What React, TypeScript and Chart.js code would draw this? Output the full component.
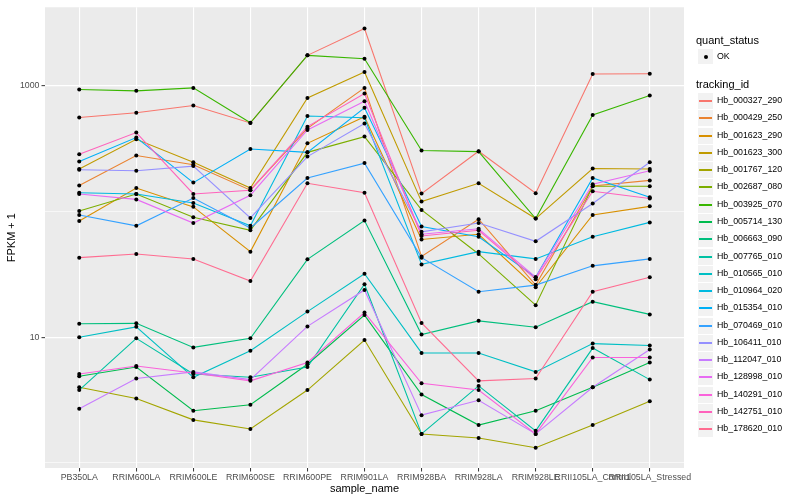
import React, { useEffect, useRef } from "react";
import { Chart, registerables } from "chart.js";

Chart.register(...registerables);

const categories = [
  "PB350LA", "RRIM600LA", "RRIM600LE", "RRIM600SE", "RRIM600PE", "RRIM901LA",
  "RRIM928BA", "RRIM928LA", "RRIM928LE", "RRII105LA_Control", "RRII105LA_Stressed",
];

const trackingIds = [
  "Hb_000327_290", "Hb_000429_250", "Hb_001623_290", "Hb_001623_300", "Hb_001767_120",
  "Hb_002687_080", "Hb_003925_070", "Hb_005714_130", "Hb_006663_090", "Hb_007765_010",
  "Hb_010565_010", "Hb_010964_020", "Hb_015354_010", "Hb_070469_010", "Hb_106411_010",
  "Hb_112047_010", "Hb_128998_010", "Hb_140291_010", "Hb_142751_010", "Hb_178620_010",
];

const seriesColors = [
  "#F8766D", "#EA8331", "#D89000", "#C09B00", "#A3A500", "#7CAE00", "#39B600", "#00BB4E",
  "#00BF7D", "#00C1A3", "#00BFC4", "#00BAE0", "#00B0F6", "#35A2FF", "#9590FF", "#C77CFF",
  "#E76BF3", "#FA62DB", "#FF62BC", "#FF6C91",
];

const hb000327_290 = [561, 611, 698, 507, 1750, 2860, 139, 302, 140, 1245, 1250];
const hb000429_250 = [161, 279, 236, 148, 459, 964, 44, 87, 26, 160, 177];
const hb001623_290 = [84, 154, 109, 48, 349, 568, 60, 66, 25, 94, 110];
const hb001623_300 = [218, 376, 247, 154, 803, 1290, 120, 168, 88, 220, 218];
const hb001767_120 = [4.0, 3.25, 2.2, 1.86, 3.8, 9.5, 1.7, 1.58, 1.32, 2.0, 3.1];
const hb002687_080 = [101, 138, 90, 71, 296, 395, 103, 46, 18, 159, 159];
const hb003925_070 = [935, 913, 964, 509, 1750, 1645, 306, 300, 88, 586, 838];
const hb005714_130 = [4.9, 5.8, 2.6, 2.9, 6.1, 15, 3.5, 2.0, 2.6, 4.0, 6.3];
const hb006663_090 = [12.8, 12.9, 8.3, 9.8, 41.7, 85, 10.5, 13.5, 12, 19.2, 15.2];
const hb007765_010 = [3.8, 9.8, 5.1, 4.8, 5.8, 26.4, 1.7, 4.1, 1.8, 8.2, 4.6];
const hb010565_010 = [10, 12.1, 4.8, 7.8, 16, 32, 7.5, 7.5, 5.3, 8.9, 8.6];
const hb010964_020 = [141, 138, 117, 77, 576, 558, 38, 48, 42, 63, 82];
const hb015354_010 = [250, 388, 170, 315, 296, 670, 76, 63, 30, 185, 130];
const hb070469_010 = [94, 77, 128, 74, 185, 243, 43, 23, 26, 37, 42];
const hb106411_010 = [215, 211, 230, 89, 274, 503, 69, 81, 58, 116, 247];
const hb112047_010 = [2.7, 4.7, 5.3, 4.6, 12.2, 23.8, 2.4, 3.15, 1.7, 4.0, 8.0];
const hb128998_010 = [138, 125, 81, 135, 446, 756, 66, 73, 30, 165, 211];
const hb140291_010 = [5.1, 5.9, 5.2, 4.5, 6.3, 15.7, 4.3, 3.8, 1.7, 6.9, 6.9];
const hb142751_010 = [286, 425, 138, 148, 474, 869, 64, 71, 29, 145, 127];
const hb178620_010 = [43, 46, 42, 28, 168, 141, 13, 4.5, 4.7, 23, 30];

const seriesValues = [
  hb000327_290, hb000429_250, hb001623_290, hb001623_300, hb001767_120,
  hb002687_080, hb003925_070, hb005714_130, hb006663_090, hb007765_010,
  hb010565_010, hb010964_020, hb015354_010, hb070469_010, hb106411_010,
  hb112047_010, hb128998_010, hb140291_010, hb142751_010, hb178620_010,
];

const yGridValues = [1, 10, 100, 1000];
const yLabeledTicks = [10, 1000];
const yMin = 0.911;
const yMax = 4223;

const FONT = "'Liberation Sans', Arial, Helvetica, sans-serif";

const panelBg = {
  id: "panelBg",
  beforeDraw(chart: any) {
    const { ctx, chartArea } = chart;
    ctx.save();
    ctx.fillStyle = "#FFFFFF";
    ctx.fillRect(0, 0, chart.width, chart.height);
    ctx.fillStyle = "#EBEBEB";
    ctx.fillRect(chartArea.left, chartArea.top, chartArea.right - chartArea.left, chartArea.bottom - chartArea.top);
    ctx.restore();
  },
};

export default function App() {
  const ref = useRef<HTMLCanvasElement | null>(null);

  useEffect(() => {
    if (!ref.current) return;
    const lineSets = seriesValues.map((vals, i) => ({
      type: "line" as const,
      label: trackingIds[i],
      data: vals.map((v, j) => ({ x: j, y: v })),
      borderColor: seriesColors[i],
      backgroundColor: seriesColors[i],
      borderWidth: 1.1,
      pointRadius: 0,
      tension: 0,
      fill: false,
      order: 20 - i,
    }));
    const pointSet = {
      type: "line" as const,
      label: "OK",
      data: seriesValues.flatMap((vals) => vals.map((v, j) => ({ x: j, y: v }))),
      showLine: false,
      pointRadius: 2,
      pointBackgroundColor: "#000000",
      pointBorderColor: "#000000",
      pointBorderWidth: 0,
      order: 0,
    };

    const chart = new Chart(ref.current, {
      type: "line",
      data: { datasets: [...lineSets, pointSet] as any },
      plugins: [panelBg],
      options: {
        animation: false,
        responsive: false,
        devicePixelRatio: 1,
        layout: { padding: { top: 5, right: 116, left: 0, bottom: 0 } },
        plugins: { legend: { display: false }, tooltip: { enabled: false } },
        scales: {
          x: {
            type: "linear",
            min: -0.6,
            max: 10.6,
            afterFit: (s: any) => { s.height = 32; },
            afterBuildTicks: (s: any) => { s.ticks = categories.map((_, i) => ({ value: i })); },
            border: { display: false },
            grid: {
              color: "#FFFFFF",
              lineWidth: 1.1,
              tickColor: "#333333",
              tickLength: 3.5,
              tickWidth: 1,
            },
            ticks: {
              autoSkip: false,
              maxRotation: 0,
              minRotation: 0,
              padding: 1,
              color: "#4D4D4D",
              font: { family: FONT, size: 8.8 },
              callback: (v: any) => categories[Math.round(Number(v))] ?? "",
            },
            title: {
              display: true,
              text: "sample_name",
              color: "#000000",
              font: { family: FONT, size: 11 },
              padding: { top: 0, bottom: 4.5 },
            },
          },
          y: {
            type: "logarithmic",
            min: yMin,
            max: yMax,
            afterFit: (s: any) => { s.width = 45; },
            afterBuildTicks: (s: any) => { s.ticks = yGridValues.map((v) => ({ value: v })); },
            border: { display: false },
            grid: {
              color: "#FFFFFF",
              lineWidth: (c: any) => (yLabeledTicks.includes(c.tick?.value) ? 1.3 : 0.6),
              tickColor: (c: any) => (yLabeledTicks.includes(c.tick?.value) ? "#333333" : "rgba(0,0,0,0)"),
              tickLength: 3.5,
              tickWidth: 1,
            },
            ticks: {
              padding: 2,
              color: "#4D4D4D",
              font: { family: FONT, size: 8.8 },
              callback: (v: any) => (yLabeledTicks.includes(Number(v)) ? String(v) : ""),
            },
            title: {
              display: true,
              text: "FPKM + 1",
              color: "#000000",
              font: { family: FONT, size: 11 },
              padding: { top: 5, bottom: 0 },
            },
          },
        },
      } as any,
    });
    return () => chart.destroy();
  }, []);

  const txt: React.CSSProperties = { position: "absolute", fontFamily: FONT, whiteSpace: "nowrap" };

  return (
    <div style={{ position: "fixed", left: 0, top: 0, width: 800, height: 500, background: "#FFFFFF" }}>
      <canvas ref={ref} width={800} height={500} style={{ position: "absolute", left: 0, top: 0 }} />
      <div style={{ ...txt, left: 696, top: 33, fontSize: 11, lineHeight: "14px", color: "#000" }}>quant_status</div>
      <div style={{ position: "absolute", left: 697, top: 48, width: 17, height: 17, background: "#F2F2F2", boxSizing: "border-box", border: "1px solid #FFFFFF" }}>
        <div style={{ position: "absolute", left: 6, top: 6, width: 4, height: 4, borderRadius: "50%", background: "#000" }} />
      </div>
      <div style={{ ...txt, left: 717, top: 51, fontSize: 8.8, lineHeight: "11px", color: "#000" }}>OK</div>
      <div style={{ ...txt, left: 696, top: 77, fontSize: 11, lineHeight: "14px", color: "#000" }}>tracking_id</div>
      {trackingIds.map((id, i) => {
        const cy = Math.round(101 + i * 17.28);
        return (
          <React.Fragment key={id}>
            <div style={{ position: "absolute", left: 697, top: cy - 9, width: 17, height: 18, background: "#F2F2F2", boxSizing: "border-box", border: "1px solid #FFFFFF" }}>
              <div style={{ position: "absolute", left: 1, top: 7, width: 13, height: 2, background: seriesColors[i] }} />
            </div>
            <div style={{ ...txt, left: 717, top: cy - 6, fontSize: 8.8, lineHeight: "11px", color: "#000" }}>{id}</div>
          </React.Fragment>
        );
      })}
    </div>
  );
}
